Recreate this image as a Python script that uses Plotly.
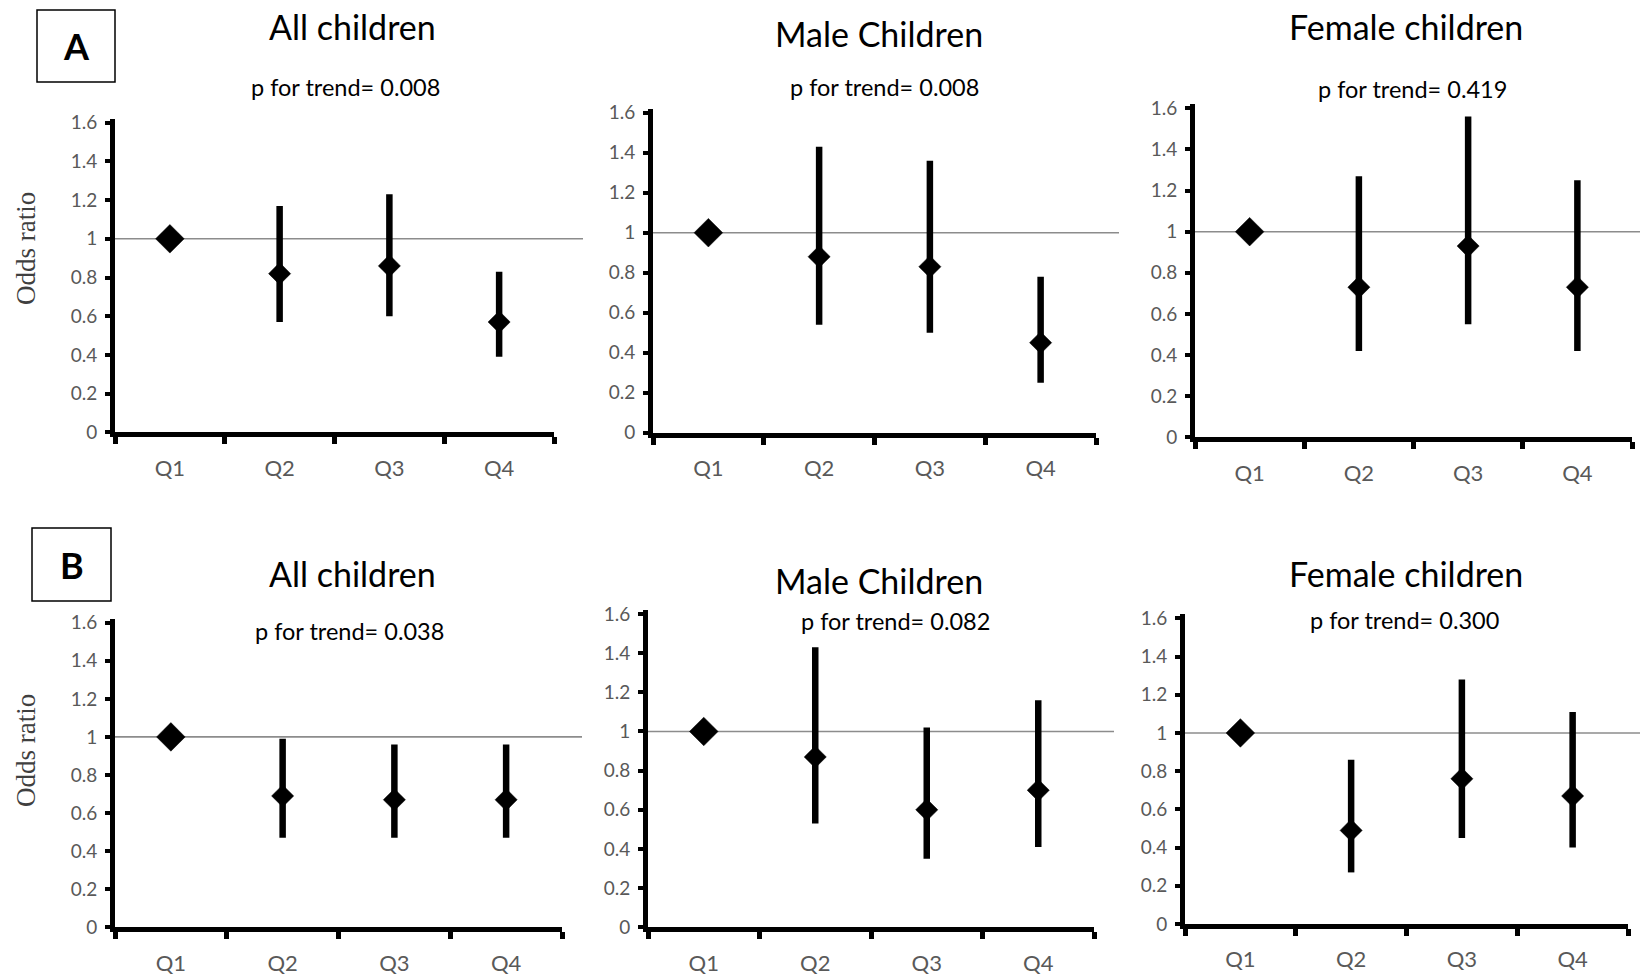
import plotly.graph_objects as go

W, H = 1640, 978

# ---------------- data ----------------
quartiles = ["Q1", "Q2", "Q3", "Q4"]
y_tick_vals = [0, 0.2, 0.4, 0.6, 0.8, 1.0, 1.2, 1.4, 1.6]
y_tick_text = ["0", "0.2", "0.4", "0.6", "0.8", "1", "1.2", "1.4", "1.6"]

panel_titles = ["All children", "Male Children", "Female children",
                "All children", "Male Children", "Female children"]
p_trend = ["p for trend= 0.008", "p for trend= 0.008", "p for trend= 0.419",
           "p for trend= 0.038", "p for trend= 0.082", "p for trend= 0.300"]
row_labels = ["A", "B"]
y_title = "Odds ratio"

# Panel A
a_all_or = [1.0, 0.82, 0.86, 0.57]
a_all_lo = [1.0, 0.57, 0.60, 0.39]
a_all_hi = [1.0, 1.17, 1.23, 0.83]

a_male_or = [1.0, 0.88, 0.83, 0.45]
a_male_lo = [1.0, 0.54, 0.50, 0.25]
a_male_hi = [1.0, 1.43, 1.36, 0.78]

a_fem_or = [1.0, 0.73, 0.93, 0.73]
a_fem_lo = [1.0, 0.42, 0.55, 0.42]
a_fem_hi = [1.0, 1.27, 1.56, 1.25]

# Panel B
b_all_or = [1.0, 0.69, 0.67, 0.67]
b_all_lo = [1.0, 0.47, 0.47, 0.47]
b_all_hi = [1.0, 0.99, 0.96, 0.96]

b_male_or = [1.0, 0.87, 0.60, 0.70]
b_male_lo = [1.0, 0.53, 0.35, 0.41]
b_male_hi = [1.0, 1.43, 1.02, 1.16]

b_fem_or = [1.0, 0.49, 0.76, 0.67]
b_fem_lo = [1.0, 0.27, 0.45, 0.40]
b_fem_hi = [1.0, 0.86, 1.28, 1.11]

series = [
    (a_all_or, a_all_lo, a_all_hi),
    (a_male_or, a_male_lo, a_male_hi),
    (a_fem_or, a_fem_lo, a_fem_hi),
    (b_all_or, b_all_lo, b_all_hi),
    (b_male_or, b_male_lo, b_male_hi),
    (b_fem_or, b_fem_lo, b_fem_hi),
]

# ---------------- layout geometry (pixels) ----------------
# x_left, x_right (axis extent), y px at 0, y px at 1.6, ref-line right end
geom = [
    (115, 554, 432.3, 122.7, 583),
    (653, 1096, 432.7, 112.7, 1119),
    (1195, 1632, 437.3, 108.3, 1640),
    (115, 562, 927.3, 622.7, 582),
    (648, 1094, 927.3, 614.0, 1114),
    (1185, 1628, 924.0, 618.3, 1640),
]
title_pos = [(352, 27), (879, 34), (1406, 27), (352, 573), (879, 580), (1406, 573)]
sub_pos = [(345, 87), (884, 87), (1412, 89), (349, 631), (895, 621), (1404, 620)]
box_pos = [(37, 10, 115, 82), (32, 528, 111, 601)]
ylab_pos = [(26, 249), (26, 751)]

Y_TOP = 1.62
TITLE_FONT = "Lato, Open Sans, sans-serif"
GRAY = "#595959"

fig = go.Figure()
shapes = []
annotations = []

for i, ((orv, lo, hi), (xl, xr, y0px, y16px, xend)) in enumerate(zip(series, geom)):
    n = i + 1
    xa = "x" if n == 1 else f"x{n}"
    ya = "y" if n == 1 else f"y{n}"
    unit = (y0px - y16px) / 1.6
    top_px = y0px - Y_TOP * unit
    dom_x = [xl / W, xr / W]
    dom_y = [1 - y0px / H, 1 - top_px / H]

    err_plus = [h - o for h, o in zip(hi, orv)]
    err_minus = [o - l for o, l in zip(orv, lo)]
    sizes = [22 if q == quartiles[0] else 17 for q in quartiles]

    fig.add_trace(go.Scatter(
        x=quartiles, y=orv, mode="markers",
        marker=dict(symbol="diamond", size=sizes, color="#000000", opacity=1,
                    line=dict(width=0.5, color="#000000")),
        error_y=dict(type="data", array=err_plus, arrayminus=err_minus,
                     symmetric=False, thickness=6.5, width=0, color="#000000"),
        xaxis=xa, yaxis=ya, showlegend=False, cliponaxis=False,
    ))

    xkey = "xaxis" if n == 1 else f"xaxis{n}"
    ykey = "yaxis" if n == 1 else f"yaxis{n}"
    fig.update_layout({
        xkey: dict(domain=dom_x, anchor=ya, type="category",
                   categoryorder="array", categoryarray=quartiles,
                   range=[-0.5, 3.5], tickson="boundaries",
                   ticks="outside", ticklen=7, tickwidth=5, tickcolor="black",
                   showline=True, linewidth=5, linecolor="black",
                   showgrid=False, zeroline=False, automargin=False,
                   tickfont=dict(family=TITLE_FONT, size=22, color=GRAY),
                   ticklabelstandoff=12),
        ykey: dict(domain=dom_y, anchor=xa, range=[0, Y_TOP],
                   tickvals=y_tick_vals, ticktext=y_tick_text,
                   ticks="outside", ticklen=5, tickwidth=4, tickcolor="black",
                   showline=True, linewidth=5, linecolor="black",
                   showgrid=False, zeroline=False, automargin=False,
                   tickfont=dict(family=TITLE_FONT, size=19, color=GRAY),
                   ticklabelstandoff=4),
    })

    # reference line at OR = 1
    shapes.append(dict(type="line", xref=f"{xa} domain", yref=ya,
                       x0=0, x1=(xend - xl) / (xr - xl), y0=1, y1=1,
                       line=dict(color="#8c8c8c", width=1.6), layer="below"))

    tx, ty = title_pos[i]
    annotations.append(dict(text=panel_titles[i], x=tx / W, y=1 - ty / H,
                            xref="paper", yref="paper", showarrow=False,
                            xanchor="center", yanchor="middle",
                            font=dict(family=TITLE_FONT, size=34, color="black")))
    sx, sy = sub_pos[i]
    annotations.append(dict(text=p_trend[i], x=sx / W, y=1 - sy / H,
                            xref="paper", yref="paper", showarrow=False,
                            xanchor="center", yanchor="middle",
                            font=dict(family=TITLE_FONT, size=23.5, color="black")))

for (bx0, by0, bx1, by1), lab in zip(box_pos, row_labels):
    shapes.append(dict(type="rect", xref="paper", yref="paper",
                       x0=bx0 / W, x1=bx1 / W, y0=1 - by1 / H, y1=1 - by0 / H,
                       line=dict(color="black", width=1.5), fillcolor="white"))
    annotations.append(dict(text=f"<b>{lab}</b>", x=(bx0 + bx1) / 2 / W,
                            y=1 - (by0 + by1) / 2 / H, xref="paper", yref="paper",
                            showarrow=False, xanchor="center", yanchor="middle",
                            font=dict(family=TITLE_FONT, size=36, color="black")))

for (lx, ly) in ylab_pos:
    annotations.append(dict(text=y_title, x=lx / W, y=1 - ly / H,
                            xref="paper", yref="paper", showarrow=False,
                            textangle=-90, xanchor="center", yanchor="middle",
                            font=dict(family="Liberation Serif, Times New Roman, serif",
                                      size=27, color="#3f3f3f")))

fig.update_layout(width=W, height=H, margin=dict(l=0, r=0, t=0, b=0, pad=0),
                  autosize=False,
                  paper_bgcolor="white", plot_bgcolor="white",
                  shapes=shapes, annotations=annotations, showlegend=False)

fig.write_html("out.html",
               config={"displayModeBar": False, "responsive": False},
               post_script="document.body.style.margin='0px';"
                           "document.body.style.overflow='hidden';")
